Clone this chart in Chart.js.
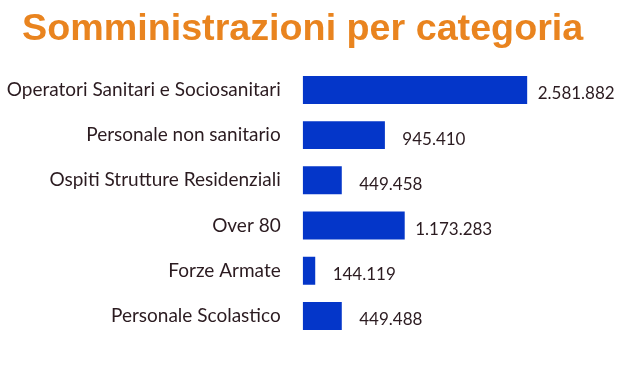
<!DOCTYPE html>
<html lang="it">
<head>
    <meta charset="UTF-8">
    <title>Somministrazioni per categoria</title>
    <script src="https://cdn.jsdelivr.net/npm/chart.js"></script>
    <style>
        body {
            margin: 0;
            background-color: #ffffff;
        }

        .wrap {
            width: 636px;
            height: 372px;
        }
    </style>
</head>
<body>
    <div class="wrap">
        <canvas id="catChart" width="636" height="372"></canvas>
    </div>

    <script>
        const chartTitle = 'Somministrazioni per categoria';
        const categories = [
            'Operatori Sanitari e Sociosanitari',
            'Personale non sanitario',
            'Ospiti Strutture Residenziali',
            'Over 80',
            'Forze Armate',
            'Personale Scolastico'
        ];
        const doses = [2581882, 945410, 449458, 1173283, 144119, 449488];

        // separatore delle migliaia con il punto
        function formatIt(n) {
            return String(n).replace(/\B(?=(\d{3})+(?!\d))/g, '.');
        }

        // titolo disegnato a mano: il plugin title non ha un margine sinistro
        const titleText = {
            id: 'titleText',
            afterDraw(chart) {
                const ctx = chart.ctx;
                ctx.save();
                ctx.font = 'bold 37.7px "Liberation Sans"';
                ctx.fillStyle = '#e9841f';
                ctx.textAlign = 'left';
                ctx.textBaseline = 'alphabetic';
                ctx.fillText(chartTitle, 22, 40);
                ctx.restore();
            }
        };

        const valueLabels = {
            id: 'valueLabels',
            afterDatasetsDraw(chart) {
                const ctx = chart.ctx;
                const meta = chart.getDatasetMeta(0);
                ctx.save();
                ctx.font = '17px Lato';
                ctx.fillStyle = '#2b1b20';
                ctx.textAlign = 'center';
                ctx.textBaseline = 'middle';
                meta.data.forEach((bar, i) => {
                    ctx.fillText(formatIt(doses[i]), bar.x + 49, bar.y + 4);
                });
                ctx.restore();
            }
        };

        new Chart(document.getElementById('catChart'), {
            type: 'bar',
            data: {
                labels: categories,
                datasets: [{
                    data: doses,
                    backgroundColor: '#0436c9',
                    borderWidth: 0,
                    barPercentage: 0.618,
                    categoryPercentage: 1
                }]
            },
            options: {
                indexAxis: 'y',
                responsive: false,
                animation: false,
                layout: {
                    padding: { left: 2, right: 29, top: 67.3, bottom: 33 }
                },
                plugins: {
                    legend: { display: false },
                    tooltip: { enabled: false },
                    title: { display: false }
                },
                scales: {
                    x: {
                        display: false,
                        min: 0,
                        max: 3500000
                    },
                    y: {
                        grid: { display: false, drawTicks: false },
                        border: { display: false },
                        afterFit(scale) {
                            scale.width = 300.7;
                        },
                        ticks: {
                            padding: 22,
                            color: '#2b1b20',
                            font: { family: 'Lato', size: 19 }
                        }
                    }
                }
            },
            plugins: [valueLabels, titleText]
        });
    </script>
</body>
</html>
